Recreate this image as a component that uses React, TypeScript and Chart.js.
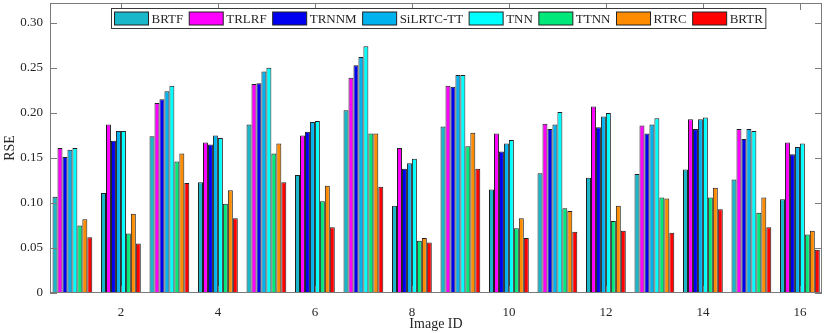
import React, { useEffect, useRef } from 'react';
import { Chart, registerables } from 'chart.js';

Chart.register(...registerables);

const imageIds = [1, 2, 3, 4, 5, 6, 7, 8, 9, 10, 11, 12, 13, 14, 15, 16];
const seriesNames = ['BRTF', 'TRLRF', 'TRNNM', 'SiLRTC-TT', 'TNN', 'TTNN', 'RTRC', 'BRTR'];

const brtf = [0.107, 0.111, 0.174, 0.123, 0.187, 0.131, 0.203, 0.097, 0.185, 0.115, 0.133, 0.128, 0.132, 0.137, 0.126, 0.104];
const trlrf = [0.161, 0.187, 0.211, 0.167, 0.232, 0.175, 0.239, 0.161, 0.230, 0.177, 0.188, 0.207, 0.186, 0.193, 0.182, 0.167];
const trnnm = [0.151, 0.169, 0.215, 0.165, 0.233, 0.179, 0.253, 0.138, 0.229, 0.157, 0.182, 0.184, 0.177, 0.182, 0.171, 0.154];
const siLrtcTt = [0.159, 0.180, 0.224, 0.175, 0.246, 0.190, 0.262, 0.144, 0.242, 0.166, 0.187, 0.196, 0.187, 0.193, 0.182, 0.162];
const tnn = [0.161, 0.180, 0.230, 0.172, 0.250, 0.191, 0.274, 0.149, 0.242, 0.170, 0.201, 0.200, 0.194, 0.195, 0.180, 0.166];
const ttnn = [0.075, 0.066, 0.146, 0.099, 0.155, 0.102, 0.177, 0.058, 0.163, 0.072, 0.094, 0.080, 0.106, 0.106, 0.089, 0.065];
const rtrc = [0.082, 0.088, 0.155, 0.114, 0.166, 0.119, 0.177, 0.061, 0.178, 0.083, 0.091, 0.097, 0.105, 0.117, 0.106, 0.069];
const brtr = [0.062, 0.055, 0.122, 0.083, 0.123, 0.073, 0.118, 0.056, 0.138, 0.061, 0.068, 0.069, 0.067, 0.093, 0.073, 0.048];

const seriesValues = [brtf, trlrf, trnnm, siLrtcTt, tnn, ttnn, rtrc, brtr];
const seriesColors = ['#19B7C9', '#FF00FF', '#0000F0', '#00B2EE', '#00FFFF', '#00E87A', '#FF8C00', '#FF0000'];

const yTickValues = [0, 0.05, 0.1, 0.15, 0.2, 0.25, 0.3];
const xTickValues = [2, 4, 6, 8, 10, 12, 14, 16];

const FONT = "'Liberation Serif', 'Times New Roman', serif";
const AXIS_COLOR = '#7a7a7a';
const TEXT_COLOR = '#262626';

const boxPlugin = {
  id: 'matlabBox',
  afterDatasetsDraw(chart: any) {
    const { ctx, chartArea: a, scales } = chart;
    const x = scales.x;
    const y = scales.y;
    ctx.save();
    ctx.strokeStyle = AXIS_COLOR;
    ctx.lineWidth = 1;
    ctx.strokeRect(a.left + 0.5, a.top + 0.5, a.right - a.left - 1, a.bottom - a.top - 1);
    ctx.beginPath();
    const tl = 7;
    for (const v of xTickValues) {
      const px = Math.round(x.getPixelForValue(v)) + 0.5;
      ctx.moveTo(px, a.bottom);
      ctx.lineTo(px, a.bottom - tl);
      ctx.moveTo(px, a.top);
      ctx.lineTo(px, a.top + tl);
    }
    for (const v of yTickValues) {
      const py = Math.round(y.getPixelForValue(v)) + 0.5;
      ctx.moveTo(a.left, py);
      ctx.lineTo(a.left + tl, py);
      ctx.moveTo(a.right, py);
      ctx.lineTo(a.right - tl, py);
    }
    ctx.stroke();

    // Legend inside the axes, top centre
    ctx.font = `13px ${FONT}`;
    const swW = 34;
    const swH = 13;
    const gap = 3;
    const itemGap = 6;
    const pad = 3;
    const widths = seriesNames.map((n) => ctx.measureText(n).width);
    let total = pad * 2;
    widths.forEach((w, i) => {
      total += swW + gap + w + (i < widths.length - 1 ? itemGap : 0);
    });
    const cx = (a.left + a.right) / 2 + 2;
    const bx = Math.round(cx - total / 2) + 0.5;
    const by = 8.5;
    const bh = 20;
    ctx.fillStyle = '#ffffff';
    ctx.fillRect(bx, by, total, bh);
    ctx.strokeStyle = '#3a3a3a';
    ctx.strokeRect(bx, by, total, bh);
    let cur = bx + pad;
    const midY = by + bh / 2;
    seriesNames.forEach((n, i) => {
      ctx.fillStyle = seriesColors[i];
      ctx.fillRect(cur, midY - swH / 2, swW, swH);
      ctx.strokeStyle = '#222222';
      ctx.strokeRect(cur, midY - swH / 2, swW, swH);
      cur += swW + gap;
      ctx.fillStyle = TEXT_COLOR;
      ctx.textBaseline = 'middle';
      ctx.textAlign = 'left';
      ctx.fillText(n, cur, midY + 1);
      cur += widths[i] + itemGap;
    });
    ctx.restore();
  },
};

const zeroPad = (scale: any) => {
  scale.paddingTop = 0;
  scale.paddingBottom = 0;
  scale.paddingLeft = 0;
  scale.paddingRight = 0;
};

export default function App() {
  const canvasRef = useRef<HTMLCanvasElement | null>(null);

  useEffect(() => {
    document.body.style.margin = '0';
    const canvas = canvasRef.current;
    if (!canvas) return;
    const datasets = seriesNames.map((name, i) => ({
      label: name,
      data: imageIds.map((id, j) => ({ x: id, y: seriesValues[i][j] })),
      backgroundColor: seriesColors[i],
      borderColor: '#1e1e1e',
      borderWidth: 1,
      borderSkipped: 'start' as const,
      categoryPercentage: 0.82,
      barPercentage: 1,
    }));
    const chart = new Chart(canvas, {
      type: 'bar',
      data: { datasets },
      options: {
        animation: false,
        responsive: false,
        maintainAspectRatio: false,
        devicePixelRatio: 1,
        layout: { padding: { left: 0, right: 8, top: 3, bottom: 0 } },
        plugins: {
          legend: { display: false },
          tooltip: { enabled: false },
        },
        scales: {
          x: {
            type: 'linear',
            min: 0.538,
            max: 16.456,
            offset: false,
            grid: { display: false, drawTicks: false },
            border: { display: false },
            ticks: {
              stepSize: 2,
              includeBounds: false,
              autoSkip: false,
              maxRotation: 0,
              padding: 12,
              color: TEXT_COLOR,
              font: { family: FONT, size: 13 },
              callback: (v: any) => String(v),
            },
            title: {
              display: true,
              text: 'Image ID',
              color: TEXT_COLOR,
              font: { family: FONT, size: 14 },
              padding: { top: 0, bottom: 0 },
            },
            afterFit: (scale: any) => {
              scale.height = 40;
              zeroPad(scale);
            },
          },
          y: {
            type: 'linear',
            min: 0,
            max: 0.322,
            grid: { display: false, drawTicks: false },
            border: { display: false },
            ticks: {
              stepSize: 0.05,
              includeBounds: false,
              autoSkip: false,
              padding: 7,
              color: TEXT_COLOR,
              font: { family: FONT, size: 13 },
              callback: (v: any) => (Number(v) === 0 ? '0' : Number(v).toFixed(2)),
            },
            title: {
              display: true,
              text: 'RSE',
              color: TEXT_COLOR,
              font: { family: FONT, size: 14 },
              padding: { top: 2, bottom: 0 },
            },
            afterFit: (scale: any) => {
              scale.width = 50;
              zeroPad(scale);
            },
          },
        },
      },
      plugins: [boxPlugin],
    });
    return () => {
      chart.destroy();
    };
  }, []);

  return (
    <div style={{ width: 830, height: 333, position: 'relative' }}>
      <canvas ref={canvasRef} width={830} height={333} style={{ display: 'block' }} />
    </div>
  );
}
